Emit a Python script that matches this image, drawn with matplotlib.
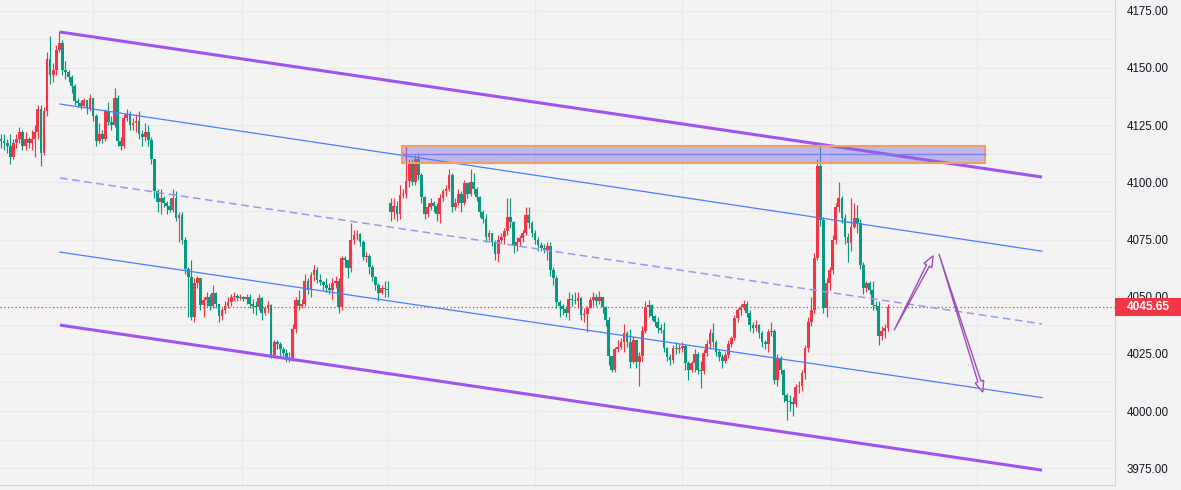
import matplotlib
matplotlib.use('Agg')
import matplotlib.pyplot as plt
from matplotlib.patches import Rectangle, Polygon
import numpy as np

plt.rcParams['font.family'] = ['Liberation Sans', 'DejaVu Sans']

# ---------------- data (price candles, 1 per bar) ----------------
open_a = 4119.0
closes_a = [4118,
    4117, 4116, 4111, 4117, 4119, 4122, 4116, 4119, 4117, 4119,
    4122, 4132, 4113, 4131, 4154, 4147, 4149, 4158, 4161, 4149,
    4148, 4146, 4142, 4135.5, 4134.5, 4133.5, 4136, 4132.5, 4137, 4129,
    4118, 4121, 4119, 4131, 4126.5, 4125, 4137, 4118, 4116, 4128,
    4130, 4125, 4126, 4127, 4121, 4120, 4122, 4118.5, 4110, 4096,
    4091.5, 4093, 4091, 4089.5, 4088, 4093, 4084.5, 4085.5, 4075, 4062,
    4058.5, 4041, 4056, 4058, 4046.5, 4048.5, 4050, 4046, 4051.5, 4047,
    4041.5, 4044, 4046, 4047.5, 4050, 4050.5, 4049.5, 4050, 4049, 4050,
    4047, 4046, 4045.5, 4049.5, 4043, 4045, 4046.5, 4024.5, 4030, 4029.5,
    4027, 4025.5, 4023, 4022.5, 4036, 4048.5, 4046, 4047, 4057, 4053,
    4059.5, 4061.5, 4057.5, 4056.5, 4055, 4054, 4053, 4056, 4057, 4045.5,
    4067, 4066, 4062.5, 4075, 4077, 4077.5, 4074, 4067.5, 4068, 4063,
    4058.5, 4055, 4051.5, 4054, 4053.5, 4053]
highs_a = [4121,
    4121, 4119, 4121, 4119, 4121, 4124, 4123, 4122, 4120, 4123,
    4125, 4134, 4134, 4133, 4157, 4164, 4152, 4160, 4166, 4162,
    4153, 4149, 4147, 4143, 4137, 4136, 4137, 4136, 4138.5, 4137,
    4130, 4126, 4123, 4132, 4135, 4129, 4141, 4138, 4120, 4130,
    4132, 4131, 4128, 4130, 4131, 4123, 4126, 4125, 4120, 4110,
    4097, 4097, 4094, 4092, 4093, 4097, 4096, 4087, 4087, 4076,
    4063, 4066, 4058, 4059, 4058, 4050, 4052, 4051, 4055, 4052,
    4047, 4045, 4048, 4050, 4051, 4052, 4051, 4051, 4050.5, 4051,
    4051, 4049, 4048, 4051, 4050, 4046, 4048, 4047, 4031, 4031,
    4030, 4028, 4027, 4026, 4038, 4050, 4053, 4049, 4060, 4058,
    4061, 4064, 4063, 4060, 4057, 4058, 4056, 4058, 4059, 4058,
    4068, 4068, 4066, 4082, 4079, 4079, 4078, 4075, 4069.5, 4068.5,
    4064, 4059, 4056, 4055, 4057, 4057]
lows_a = [4115,
    4114, 4113, 4108, 4110, 4115, 4117, 4114, 4114, 4115, 4114,
    4111, 4119, 4107, 4112, 4129, 4143, 4144, 4147, 4157, 4147,
    4145, 4144, 4139, 4134, 4133, 4132, 4133, 4130, 4131, 4127,
    4116, 4117, 4117, 4118, 4125, 4123, 4124, 4116, 4114, 4115,
    4127, 4123, 4123, 4122, 4119, 4116, 4118, 4116, 4108, 4093,
    4087, 4086, 4089, 4086, 4087, 4087, 4083, 4074, 4073, 4060,
    4041, 4040, 4039, 4054, 4044, 4041, 4046, 4044, 4045, 4045,
    4039, 4040, 4043, 4045, 4046, 4048, 4048, 4048.5, 4048, 4047,
    4045, 4043, 4042, 4044, 4040, 4042, 4043, 4023, 4023, 4027,
    4024, 4024, 4021.5, 4021.5, 4022, 4034, 4044, 4045, 4046, 4051,
    4050, 4057, 4056, 4055, 4053, 4052, 4051, 4049, 4054, 4043,
    4044, 4063, 4058, 4061, 4073, 4075, 4072, 4066, 4065, 4060,
    4057, 4053, 4048, 4051, 4050, 4050]

open_b = 4091.0   # session gap
closes_b = [
    4087, 4089.5, 4086, 4094.5, 4095, 4100.5, 4108, 4100, 4110, 4103,
    4093.5, 4086, 4089, 4091, 4089.5, 4086, 4093, 4096, 4097, 4103,
    4089, 4091, 4095, 4091, 4099.5, 4095, 4100, 4097, 4093.5, 4087,
    4084, 4076, 4078, 4074, 4068.5, 4075, 4076, 4078.5, 4085, 4082.5,
    4072, 4074, 4075.5, 4078, 4085.5, 4082, 4078, 4075, 4072.5, 4071.5,
    4070.5, 4072, 4061.5, 4058, 4047.5, 4046, 4044.5, 4043, 4049, 4048.5,
    4048, 4049.5, 4042, 4042.5, 4045, 4048.5, 4050, 4048, 4050, 4045.5,
    4040, 4024, 4018, 4027, 4028, 4030, 4034, 4030, 4021.5, 4031,
    4021.5, 4024, 4035, 4045.5, 4046.5, 4041.5, 4039, 4036.5, 4035.5, 4027.5,
    4023.5, 4022.5, 4027.5, 4027, 4027.5, 4028.5, 4021, 4018, 4021, 4025,
    4018, 4017.5, 4025.5, 4029.5, 4034, 4030, 4026, 4023.5, 4022, 4024.5,
    4029.5, 4032, 4040.5, 4044, 4045.5, 4047, 4043, 4037.5, 4036.5, 4037.5,
    4034, 4030, 4029.5, 4034.5, 4035, 4013.5, 4023, 4018, 4007, 4004.5,
    4004, 4003, 4010.5, 4011, 4016.5, 4027.5, 4039, 4044, 4067, 4107,
    4083.5, 4045, 4056, 4061.5, 4075, 4089, 4093, 4084.5, 4076, 4073.5,
    4080.5, 4084.5, 4082, 4064, 4054, 4056, 4053, 4046.5, 4046, 4033,
    4035, 4036.5, 4045.65]
highs_b = [
    4093, 4093, 4092, 4099, 4097, 4116, 4110, 4110, 4112, 4113,
    4104, 4094, 4091, 4093, 4092, 4091, 4095, 4097, 4099, 4106,
    4104, 4093, 4097, 4096, 4101, 4100, 4106, 4104, 4098, 4094,
    4088, 4086, 4079, 4078, 4075, 4077, 4078, 4080, 4093, 4093,
    4083, 4076, 4077, 4079, 4089, 4089, 4083, 4079, 4076, 4074,
    4073, 4074, 4074, 4063, 4059, 4048.5, 4047, 4046, 4052, 4051,
    4052, 4052, 4050, 4045, 4046, 4050, 4052, 4051, 4052.5, 4050,
    4046, 4041, 4024, 4028, 4031, 4032, 4038, 4035, 4036, 4033,
    4031, 4026, 4037, 4048, 4048.5, 4047, 4042, 4041, 4038, 4039,
    4028, 4025, 4029, 4030, 4029.5, 4030, 4029, 4022, 4022, 4027,
    4026, 4022, 4027, 4031, 4036, 4038.5, 4031, 4027, 4025, 4026,
    4031, 4033, 4042, 4045, 4047, 4048.5, 4048, 4044, 4039, 4040,
    4038, 4035, 4031, 4036, 4039, 4036, 4025, 4024, 4016, 4008,
    4007, 4006, 4012, 4013, 4018, 4029, 4041, 4050, 4069, 4110,
    4116, 4085, 4058, 4063, 4077, 4091, 4100, 4094, 4086, 4078,
    4093, 4091, 4090, 4084, 4065, 4057, 4057, 4057, 4048, 4048,
    4037, 4038, 4047]
lows_b = [
    4083, 4084, 4083, 4084, 4093, 4093, 4098, 4099, 4099, 4101,
    4091, 4084, 4085, 4088, 4087, 4083, 4082, 4092, 4094, 4096,
    4087, 4088, 4090, 4087, 4090, 4093, 4094, 4095, 4092, 4085,
    4082, 4074, 4075, 4072, 4066, 4065, 4074, 4073, 4077, 4080,
    4069, 4070, 4072, 4074, 4077, 4080, 4076, 4073, 4070, 4070,
    4069, 4066, 4059, 4055, 4045, 4041, 4042, 4041, 4040, 4046,
    4047, 4045, 4040, 4039, 4034.5, 4045, 4046, 4046, 4047, 4043,
    4037, 4020, 4017, 4017, 4026, 4027, 4026, 4028, 4019, 4021,
    4019, 4011, 4022, 4034, 4041, 4040, 4037, 4034, 4034, 4026,
    4022, 4020, 4021, 4025, 4025.5, 4026, 4018, 4013.5, 4017, 4017,
    4016, 4010, 4016, 4024, 4027, 4028, 4024, 4022, 4019, 4021,
    4023, 4028, 4031, 4039, 4042, 4044, 4041, 4035, 4034, 4035,
    4032, 4028, 4027, 4026, 4033, 4012, 4011, 4016, 4004, 3996,
    4000, 3998, 4002, 4008, 4009, 4014, 4026, 4037, 4043, 4066,
    4081, 4043, 4041, 4053, 4060, 4073, 4087, 4082, 4073, 4065,
    4070, 4080, 4078, 4062, 4051, 4052, 4051, 4044, 4044, 4029,
    4031, 4032, 4035]

last_price = 4045.65

# drawings (anchors in bar index / price)
chan_x = [19.2, 339.2]
chan_outer_top = [4165.7, 4102.3]
chan_outer_bot = [4037.6, 3974.2]
chan_inner_top = [4134.2, 4069.9]
chan_inner_bot = [4069.5, 4005.9]
chan_mid = [4101.9, 4038.1]
zone_x = [130.7, 320.6]
zone_y = [4108.4, 4115.9]
zone_mid = 4112.2
arrow_up = ([291.0, 303.7], [4035.3, 4067.9])
arrow_down = ([305.6, 319.9], [4068.8, 4008.3])
time_grid = [30, 78.5, 126, 174, 222, 270.5, 318]
price_ticks = [3975, 4000, 4025, 4050, 4075, 4100, 4125, 4150, 4175]

# ---------------- styling ----------------
BG = '#f3f3f3'
GRID = '#e9e9e9'
RED = '#f23645'
GREEN = '#089981'
PURPLE = '#a152f2'
BLUE = '#4a7dff'
DASH = '#9d94f5'
ARROW = '#9c50b6'

W, H = 1181, 490
fig = plt.figure(figsize=(W / 100, H / 100), dpi=100)
fig.patch.set_facecolor(BG)
ax = fig.add_axes([0, 5 / H, 1115 / W, 485 / H])
ax.set_facecolor(BG)

ppc = 3.069  # pixels per bar
ax.set_xlim(-1 / ppc, 1114 / ppc)
ax.set_ylim(3967.7, 4179.68)

closes = np.array(closes_a + closes_b, dtype=float)
highs = np.array(highs_a + highs_b, dtype=float)
lows = np.array(lows_a + lows_b, dtype=float)
opens = np.array([open_a] + closes_a[:-1] + [open_b] + closes_b[:-1], dtype=float)
idx = np.arange(len(closes))
cols = np.where(closes >= opens, RED, GREEN)

ax.vlines(idx, lows, highs, colors=cols, linewidth=0.85, zorder=2)
bottoms = np.minimum(opens, closes)
heights = np.maximum(np.abs(closes - opens), 0.4)
ax.bar(idx, heights, bottom=bottoms, width=0.9, color=cols, linewidth=0, zorder=2.1)

# current price line
ax.axhline(last_price, color=RED, lw=0.9, ls=(0, (1, 2)), zorder=1.8)

# channel
ax.plot(chan_x, chan_outer_top, color=PURPLE, lw=2.2, solid_capstyle='butt', zorder=3)
ax.plot(chan_x, chan_outer_bot, color=PURPLE, lw=2.2, solid_capstyle='butt', zorder=3)
ax.plot(chan_x, chan_inner_top, color=BLUE, lw=0.9, zorder=3)
ax.plot(chan_x, chan_inner_bot, color=BLUE, lw=0.9, zorder=3)
ax.plot(chan_x, chan_mid, color=DASH, lw=1.1, ls=(0, (5, 3)), zorder=3)

# zone rectangle
ax.add_patch(Rectangle((zone_x[0], zone_y[0]), zone_x[1] - zone_x[0], zone_y[1] - zone_y[0],
                       facecolor=(0.486, 0.435, 0.91, 0.45), edgecolor='#f0a060',
                       lw=1.5, zorder=4))
ax.plot(zone_x, [zone_mid, zone_mid], color='#7f7fee', lw=1.0, zorder=4.1)


def marker_arrow(ax, xs, ys):
    T = ax.transData
    p0 = T.transform((xs[0], ys[0]))
    p1 = T.transform((xs[1], ys[1]))
    d = p1 - p0
    u = d / np.hypot(*d)
    n = np.array([-u[1], u[0]])
    head_len, head_hw, shaft_hw = 11.0, 4.5, 1.6
    base = p1 - u * head_len
    pts = np.array([p0, base + n * shaft_hw, base + n * head_hw, p1,
                    base - n * head_hw, base - n * shaft_hw])
    pts = T.inverted().transform(pts)
    ax.add_patch(Polygon(pts, closed=True, facecolor=(0.95, 0.93, 0.97, 0.6),
                         edgecolor=ARROW, lw=1.0, zorder=5, joinstyle='miter'))


marker_arrow(ax, *arrow_up)
marker_arrow(ax, *arrow_down)

# axes / grid
ax.yaxis.tick_right()
ax.set_yticks(price_ticks)
ax.set_yticklabels([f'{v:.2f}' for v in price_ticks])
ax.set_yticks([v + 12.5 for v in price_ticks[:-1]], minor=True)
ax.tick_params(axis='y', which='both', length=0, pad=8.6, labelsize=8.3,
               labelcolor='#131722')
ax.set_xticks(time_grid)
ax.tick_params(axis='x', length=0, labelbottom=False)
ax.grid(True, which='both', axis='y', color=GRID, lw=0.8)
ax.grid(True, which='major', axis='x', color=GRID, lw=0.8)
ax.set_axisbelow(True)
for s in ['top', 'left']:
    ax.spines[s].set_visible(False)
ax.spines['right'].set_color('#d6d6d6')
ax.spines['right'].set_linewidth(0.8)
ax.spines['bottom'].set_color('#d3d3d8')
ax.spines['bottom'].set_linewidth(0.8)

# last price label (covers the lower half of the 4050.00 tick label, as in the source)
fig.patches.append(Rectangle((1115 / W, (H - 316) / H), 66 / W, 18 / H,
                             transform=fig.transFigure, facecolor=RED,
                             edgecolor='none', zorder=5))
fig.text(1148 / W, (H - 307) / H, f'{last_price:.2f}', color='white',
         fontsize=8.6, fontweight='bold', ha='center', va='center', zorder=6)

fig.savefig('out.png', dpi=100, facecolor=BG)
